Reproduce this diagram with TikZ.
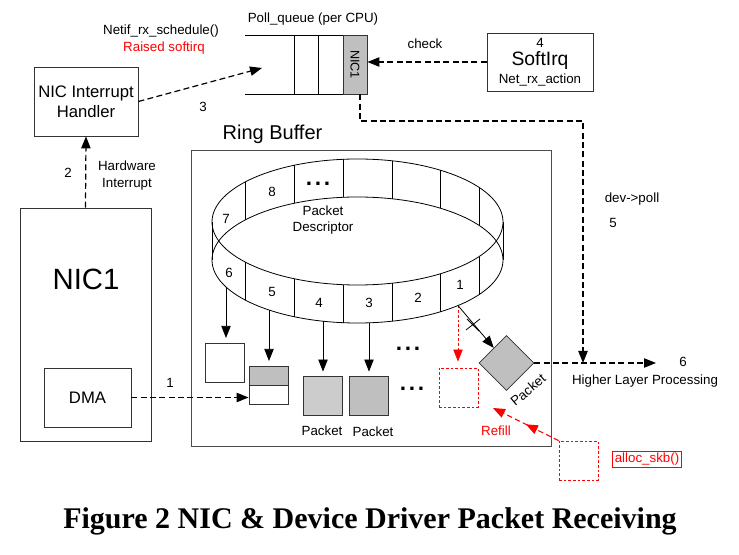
\documentclass[tikz,border=0pt]{standalone}
\usepackage{fontspec}
\setmainfont{Liberation Sans}
\newfontfamily\capfont{Liberation Serif}
\usetikzlibrary{arrows.meta,shapes.geometric,calc,decorations.markings}
\tikzset{
    box/.style = {
        draw      = black!80,
        inner sep = 0pt,
        align     = center,
    },
    pkt/.style = {
        draw             = black!80,
        minimum width    = 29.25pt,
        minimum height   = 29.25pt,
        inner sep        = 0pt,
    },
    lbl/.style = {
        font      = \fontsize{10}{12.5}\selectfont,
        inner sep = 0pt,
        align     = center,
    },
    arr/.style    = {-{Triangle[length=9pt,width=7pt]}},
    dashln/.style = {line width=0.9pt, dash pattern=on 4.5pt off 2.5pt},
    refill/.style = {draw=red, dash pattern=on 2pt off 1.5pt},
    dots/.style   = {font=\fontsize{17}{17}\selectfont\bfseries, anchor=base, inner sep=0pt},
}

\begin{document}
\begin{tikzpicture}[x=0.75pt, y=-0.75pt, line width=0.6pt]
  \path[use as bounding box] (0,0) rectangle (739,555);

  % NIC and its interrupt handler
  \node[box, minimum width=78pt, minimum height=51.75pt,
        font=\fontsize{12.5}{15}\selectfont] (handler) at (86,101.5) {NIC Interrupt\\Handler};
  \node[box, minimum width=98.25pt, minimum height=174.75pt] (nic) at (85.5,324.5) {};
  \node[font=\fontsize{22}{26}\selectfont] (niclbl) at (86,279) {NIC1};
  \node[box, minimum width=65.25pt, minimum height=44.25pt,
        font=\fontsize{12.5}{15}\selectfont] (dma) at (87.5,397.5) {DMA};
  \draw[dashln, arr] (nic.north) -- (handler.south);
  \node[lbl] (n2) at (68,173) {2};
  \node[lbl, font=\fontsize{10}{12.75}\selectfont] (hwint) at (127,175.5) {Hardware\\Interrupt};

  % poll queue
  \node[lbl] (pqlbl) at (313,19) {Poll\_queue (per CPU)};
  \draw (245,35) -- (343,35) (245,94) -- (343,94) (294,35) -- (294,94) (318,35) -- (318,94);
  \node[box, fill=gray!50, minimum width=18pt, minimum height=44.25pt] (nicq) at (355,64.5) {};
  \node[lbl, font=\fontsize{9.5}{11}\selectfont, rotate=-90] (nicqlbl) at (nicq) {NIC1};
  \node[lbl] (sched) at (161,31) {Netif\_rx\_schedule()};
  \node[lbl, text=red] (raised) at (164,48) {Raised softirq};
  \coordinate (q3) at (262,68);
  \draw[dashln, arr] (handler.east) -- (q3);
  \node[lbl] (n3) at (203,107) {3};

  % softirq
  \node[box, minimum width=79.5pt, minimum height=43.5pt] (softirq) at (540,62) {};
  \node[lbl] (n4) at (540,43) {4};
  \node[font=\fontsize{14.5}{17}\selectfont, inner sep=0pt] (sirqlbl) at (540,61) {SoftIrq};
  \node[lbl] (rxaction) at (540,80) {Net\_rx\_action};
  \draw[dashln, arr] (softirq.west) -- (softirq.west -| nicq.east);
  \node[lbl] (check) at (425,44) {check};

  % ring buffer
  \node[box, draw=black!70, minimum width=270pt, minimum height=222pt] (ring) at (371,298) {};
  \node[font=\fontsize{15}{18}\selectfont] (ringlbl) at (272.5,134) {Ring Buffer};
  \draw (357.5,222) ellipse [x radius=145.5, y radius=63];
  \draw (357.5,260) ellipse [x radius=145.5, y radius=63];
  \draw (212,222) -- (212,260) (503,222) -- (503,260);
  \foreach \x in {245,294,343,392,440,479} {
    \pgfmathsetmacro{\dy}{63*sqrt(1-((\x-357.5)/145.5)^2)}
    \draw (\x,222-\dy) -- (\x,260-\dy) (\x,222+\dy) -- (\x,260+\dy);
  }
  \foreach \n/\x/\y in {7/226/219, 8/272/192, 6/229/273, 5/272/292,
                        4/319/303, 3/369/303, 2/418/298, 1/460/285}
    \node[lbl] at (\x,\y) {\n};
  \node[dots] at (318,186) {.\hspace{2pt}.\hspace{2pt}.};
  \node[lbl, font=\fontsize{10}{12}\selectfont] (pdesc) at (323,220) {Packet\\Descriptor};

  % descriptor slots pointing to buffers
  \foreach \n/\x in {6/226, 5/269, 4/323, 3/369, 1/458} {
    \pgfmathsetmacro{\dy}{63*sqrt(1-((\x-357.5)/145.5)^2)}
    \coordinate (d\n) at (\x,260+\dy);
  }
  \node[pkt] (wbox) at (225,362.5) {};
  \node[pkt, minimum height=28.5pt,
        path picture={\fill[gray!50] (path picture bounding box.north west)
                      rectangle (path picture bounding box.east);}] (split) at (268.5,385) {};
  \draw[black!80] (split.west) -- (split.east);
  \node[pkt, fill=gray!40] (pkta) at (322.5,395.5) {};
  \node[pkt, fill=gray!50] (pktb) at (368.5,395.5) {};
  \node[lbl] (pktalbl) at (322,431) {Packet};
  \node[lbl] (pktblbl) at (373,432) {Packet};
  \node[dots] at (408,351) {.\hspace{2pt}.\hspace{2pt}.};
  \node[dots] at (412,391) {.\hspace{2pt}.\hspace{2pt}.};
  \node[pkt, refill] (empty) at (458.5,387.5) {};
  \node[diamond, draw=black!80, fill=gray!50, minimum width=41.25pt,
        minimum height=41.25pt, inner sep=0pt] (pktd) at (506.5,363) {};
  \node[lbl, rotate=40] (pktdlbl) at (528,390) {Packet};

  \draw[arr, shorten >=3.5pt] (d6) -- (d6 |- wbox.north);
  \draw[arr, shorten >=3.5pt] (d5) -- (d5 |- split.north);
  \draw[arr, shorten >=3pt] (d4) -- (d4 |- pkta.north);
  \draw[arr, shorten >=3pt] (d3) -- (d3 |- pktb.north);
  \draw[refill, arr, shorten >=4.5pt] (d1) -- (d1 |- empty.north);
  \draw[arr] (d1) -- (pktd);
  \draw (467,319) -- (479,331) (466,330) -- (480,319);

  \draw[dashln, arr] (dma.east) -- (dma.east -| split.west);
  \node[lbl] (n1) at (170,383) {1};

  % poll and hand over
  \coordinate (join) at (583,363);
  \coordinate (out) at (656,363);
  \draw[dashln, arr] ([xshift=3.75pt]nicq.south) |- (583,121) -- (join);
  \draw[dashln, arr] (pktd.east) -- (out);
  \node[lbl] (devpoll) at (632,199) {dev->poll};
  \node[lbl] (n5) at (613,223) {5};
  \node[lbl] (n6) at (683,362) {6};
  \node[lbl] (higher) at (645,381) {Higher Layer Processing};

  % refill
  \node[pkt, refill] (alloc) at (578.5,460.5) {};
  \node[lbl, text=red, draw=red, inner sep=1.5pt] (allocskb) at (647,459.5) {alloc\_skb()};
  \coordinate (rf) at (493,408);
  \draw[red, line width=0.8pt, dash pattern=on 4pt off 2.5pt, arr, postaction={decorate},
        decoration={markings, mark=at position 0.5 with {\arrow{Triangle[length=9pt,width=7pt]}}}]
    (alloc.north west) -- (rf);
  \node[lbl, text=red] (refilllbl) at (496,431) {Refill};

  \node[font={\capfont\bfseries\fontsize{22.5}{26}\selectfont}] (caption) at (370,521)
    {Figure 2 NIC \& Device Driver Packet Receiving};
\end{tikzpicture}
\end{document}
